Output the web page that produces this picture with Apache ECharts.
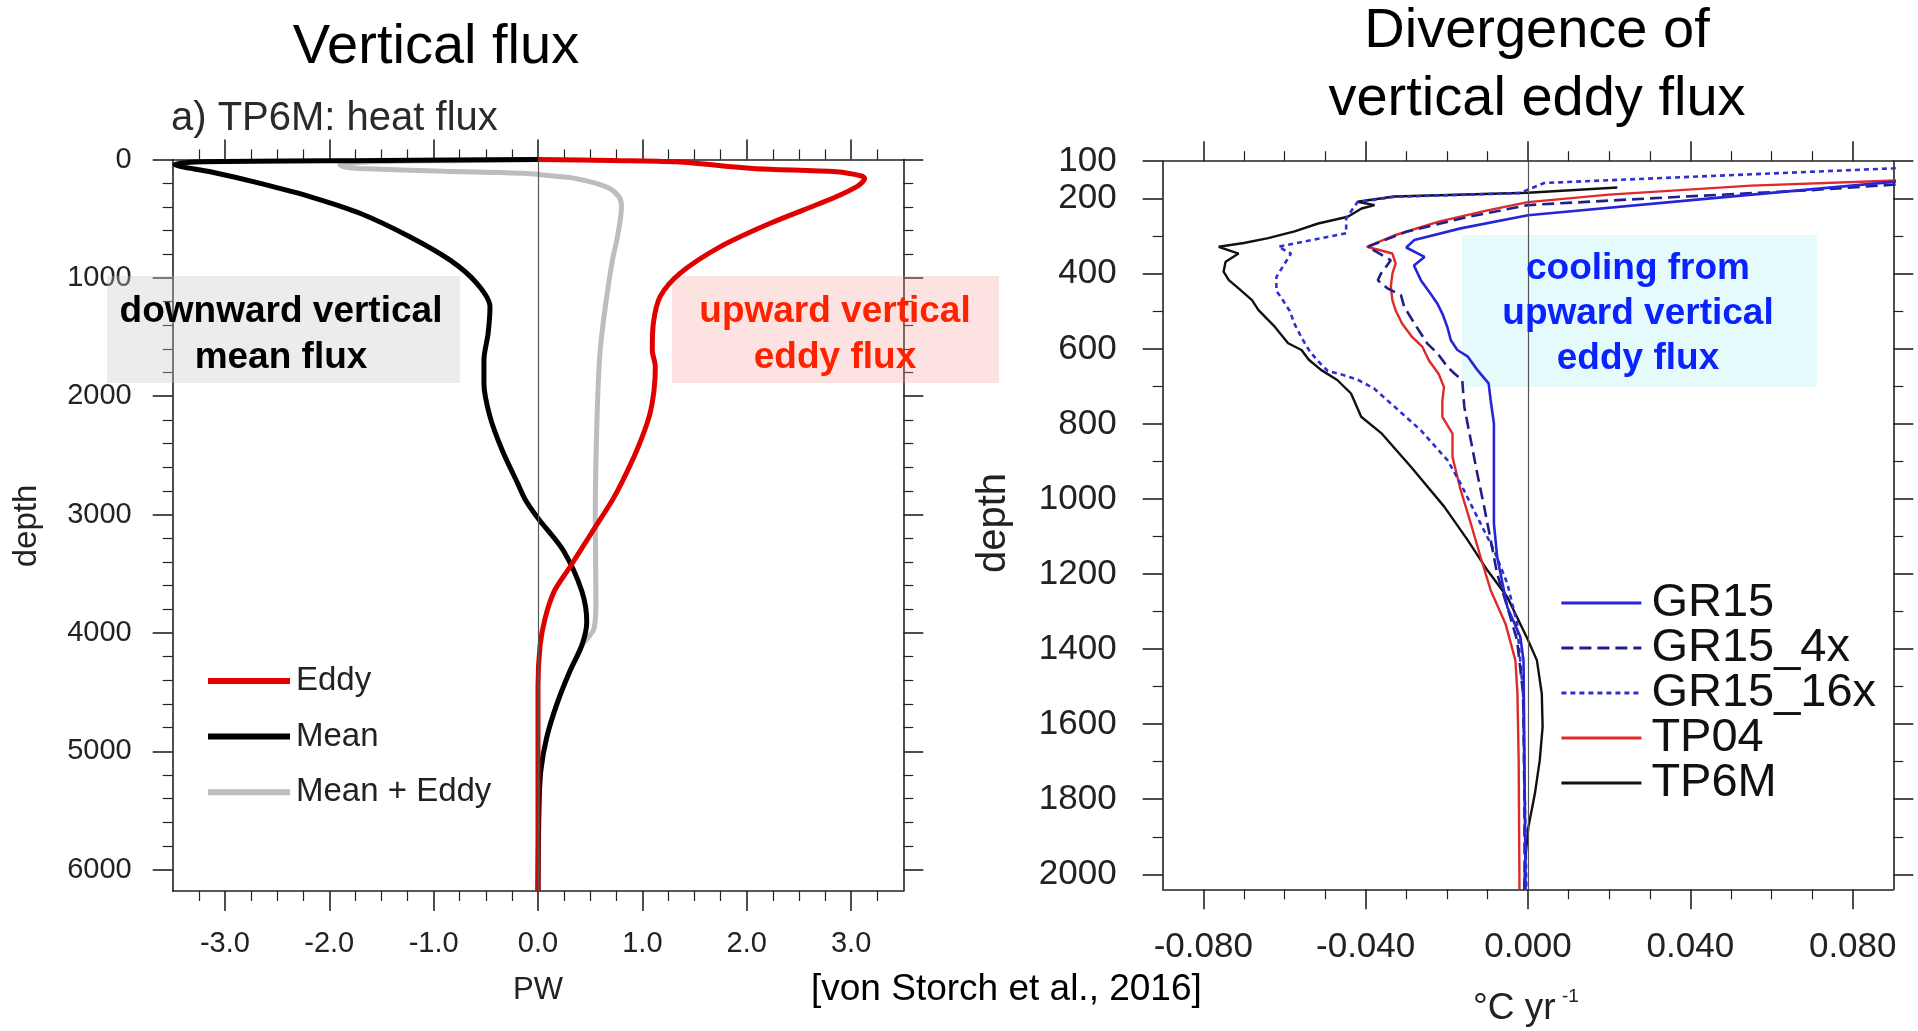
<!DOCTYPE html>
<html><head><meta charset="utf-8">
<script src="https://cdn.jsdelivr.net/npm/echarts@6/dist/echarts.min.js"></script>
<style>html,body{margin:0;padding:0;background:#fff}#c{width:1918px;height:1031px}</style>
</head><body><div id="c"></div>
<script>
const FONT = "'Liberation Sans', Arial, Helvetica, sans-serif";

// ---------- Left panel: a) TP6M heat flux (PW) vs depth ----------
const eddyDepth = [0,8,20,76,104,139,160,198,231,298,372,541,738,962,1159,1385,1610,1751,1947,2172,2454,2734,2876,3162,3447,3647,3876,4105,4448,6180];
const eddyFlux  = [0,0.7,1.33,2.06,2.86,3.10,3.13,3.10,3.05,2.90,2.70,2.22,1.744,1.36,1.17,1.105,1.095,1.124,1.112,1.065,0.948,0.80,0.713,0.508,0.303,0.156,0.068,0.02,0,0];
const meanDepth = [0,8,18,40,60,104,202,315,456,654,850,1046,1244,1469,1694,1890,2172,2454,2734,2876,3030,3305,3647,3905,4105,4334,4591,4877,5162,5449,6180];
const meanFlux  = [0,-1.5,-3.2,-3.48,-3.42,-3.14,-2.66,-2.18,-1.70,-1.225,-0.842,-0.586,-0.46,-0.478,-0.518,-0.518,-0.46,-0.344,-0.196,-0.12,0,0.244,0.42,0.467,0.42,0.30,0.185,0.085,0.027,0.01,0];
const sumDepth  = [0,8,20,45,63,76,100,118,140,162,200,246,320,400,500,681,850,1187,1610,2172,3015,3733,3962,4050,4105,4334,4591,4877,5162,5449,6180];
const sumFlux   = [0,-0.7,-1.6,-1.9,-1.85,-1.7,-0.9,-0.11,0.15,0.37,0.55,0.69,0.78,0.80,0.79,0.755,0.713,0.654,0.596,0.566,0.549,0.555,0.537,0.47,0.42,0.30,0.185,0.085,0.027,0.01,0];
const leftXTicks = [-3,-2,-1,0,1,2,3];
const leftXMinor = [-3.25,-2.75,-2.5,-2.25,-1.75,-1.5,-1.25,-0.75,-0.5,-0.25,0.25,0.5,0.75,1.25,1.5,1.75,2.25,2.5,2.75,3.25];
const leftYTicks = [0,1000,2000,3000,4000,5000,6000];
const leftYMinor = [200,400,600,800,1200,1400,1600,1800,2200,2400,2600,2800,3200,3400,3600,3800,4200,4400,4600,4800,5200,5400,5600,5800];

// ---------- Right panel: divergence of vertical eddy flux (°C/yr) vs depth ----------
const gr15Depth  = [148,155,199,244,279,310,330,355,378,417,453,480,506,541,577,603,620,656,692,737,799,932,1065,1154,1288,1367,1430,1785,2040];
const gr15Rate   = [0.095,0.09,0.045,0,-0.0166,-0.028,-0.030,-0.0255,-0.0281,-0.0264,-0.024,-0.0223,-0.0211,-0.0199,-0.019,-0.0174,-0.0149,-0.0125,-0.0097,-0.0092,-0.0084,-0.0084,-0.0084,-0.0076,-0.0051,-0.0019,-0.0011,-0.0008,-0.0006];
const gr4xDepth  = [159,177,199,217,249,288,328,364,399,417,439,457,488,532,559,586,612,647,665,683,754,843,932,1021,1109,1199,1288,1376,1519,1785,2040];
const gr4xRate   = [0.095,0.07,0.03,0.0,-0.015,-0.03,-0.0395,-0.0338,-0.0362,-0.037,-0.0346,-0.0313,-0.0305,-0.028,-0.0264,-0.0248,-0.0223,-0.0199,-0.0182,-0.0162,-0.0157,-0.0141,-0.0125,-0.0108,-0.0092,-0.0076,-0.0051,-0.0027,-0.0012,-0.0009,-0.0008];
const gr16xDepth = [110,119,158,185,195,209,252,292,328,346,374,409,445,472,499,534,570,606,632,659,668,682,705,754,817,897,959,1048,1136,1225,1331,1519,1785,2040];
const gr16xRate  = [0.095,0.09,0.004,-0.002,-0.033,-0.042,-0.0448,-0.0448,-0.0615,-0.0584,-0.060,-0.062,-0.062,-0.0603,-0.0587,-0.0575,-0.0558,-0.0538,-0.0518,-0.0493,-0.046,-0.042,-0.038,-0.0329,-0.0264,-0.0198,-0.0166,-0.0125,-0.0084,-0.0051,-0.0027,-0.0012,-0.0008,-0.0004];
const tp04Depth  = [150,165,189,209,231,261,298,328,346,373,399,435,471,498,533,569,595,631,667,702,738,781,826,888,976,1065,1154,1243,1334,1430,1519,1696,2040];
const tp04Rate   = [0.095,0.055,0.02,0.0,-0.01,-0.022,-0.033,-0.0397,-0.0334,-0.0326,-0.0334,-0.0338,-0.0334,-0.0326,-0.031,-0.0285,-0.026,-0.0244,-0.022,-0.0207,-0.0211,-0.0211,-0.0186,-0.0186,-0.0166,-0.0141,-0.0117,-0.0092,-0.0055,-0.0031,-0.0026,-0.0023,-0.0021];
const tp6mDepth  = [170,184,194,208,217,226,248,266,287,305,318,328,346,368,394,417,439,470,497,541,585,603,629,656,683,719,781,826,915,1021,1109,1190,1261,1376,1430,1519,1607,1696,1785,1874,1963,2040];
const tp6mRate   = [0.022,0.0,-0.033,-0.042,-0.0378,-0.041,-0.0444,-0.0517,-0.0575,-0.064,-0.070,-0.0762,-0.0713,-0.0745,-0.075,-0.0737,-0.0713,-0.068,-0.0664,-0.0624,-0.0591,-0.0558,-0.054,-0.051,-0.047,-0.0436,-0.0411,-0.036,-0.0288,-0.0206,-0.0149,-0.010,-0.0051,0,0.0022,0.0034,0.0036,0.0029,0.0017,0.0001,-0.0007,-0.0009];
const rightXTicks = [-0.08,-0.04,0,0.04,0.08];
const rightXMinor = [-0.07,-0.06,-0.05,-0.03,-0.02,-0.01,0.01,0.02,0.03,0.05,0.06,0.07];
const rightYLabels = [100,200,400,600,800,1000,1200,1400,1600,1800,2000];
const rightYMinor = [300,500,700,900,1100,1300,1500,1700,1900];

const pairs = (xs, ys) => xs.map((v, i) => [v, ys[i]]);

const TICKC = '#222';
function axis(o) {
  return {
    type: 'value', gridIndex: o.grid, position: o.pos, min: o.min, max: o.max,
    inverse: !!o.inverse, splitLine: { show: false },
    axisLine: { show: !!o.line, onZero: false, lineStyle: { color: TICKC, width: 1.6 } },
    axisTick: { show: true, inside: false, length: o.len, customValues: o.ticks,
                lineStyle: { color: TICKC, width: o.len > 15 ? 1.6 : 1.2 } },
    axisLabel: o.labels ? { show: true, customValues: o.labels, formatter: o.fmt,
                fontFamily: FONT, fontSize: o.fs, color: '#222', margin: o.margin } : { show: false }
  };
}
const LX = { min: -3.5, max: 3.5 }, LY = { min: 0, max: 6180 };
const RX = { min: -0.09, max: 0.09 }, RY = { min: 100, max: 2040 };
const xAxes = [
  axis({ grid: 0, pos: 'bottom', ...LX, line: true, ticks: leftXTicks, len: 20, labels: leftXTicks, fmt: v => Number(v).toFixed(1), fs: 29, margin: 38 }),
  axis({ grid: 0, pos: 'bottom', ...LX, ticks: leftXMinor, len: 10 }),
  axis({ grid: 0, pos: 'top', ...LX, line: true, ticks: leftXTicks, len: 20 }),
  axis({ grid: 0, pos: 'top', ...LX, ticks: leftXMinor, len: 10 }),
  axis({ grid: 1, pos: 'bottom', ...RX, line: true, ticks: rightXTicks, len: 20, labels: rightXTicks, fmt: v => Number(v).toFixed(3), fs: 35, margin: 41 }),
  axis({ grid: 1, pos: 'bottom', ...RX, ticks: rightXMinor, len: 10 }),
  axis({ grid: 1, pos: 'top', ...RX, line: true, ticks: rightXTicks, len: 20 }),
  axis({ grid: 1, pos: 'top', ...RX, ticks: rightXMinor, len: 10 })
];
const yAxes = [
  axis({ grid: 0, pos: 'left', ...LY, inverse: true, line: true, ticks: leftYTicks, len: 20, labels: leftYTicks, fmt: v => String(v), fs: 29, margin: 41 }),
  axis({ grid: 0, pos: 'left', ...LY, inverse: true, ticks: leftYMinor, len: 10 }),
  axis({ grid: 0, pos: 'right', ...LY, inverse: true, line: true, ticks: leftYTicks, len: 20 }),
  axis({ grid: 0, pos: 'right', ...LY, inverse: true, ticks: leftYMinor, len: 10 }),
  axis({ grid: 1, pos: 'left', ...RY, inverse: true, line: true, ticks: rightYLabels, len: 20, labels: rightYLabels, fmt: v => String(v), fs: 35, margin: 46 }),
  axis({ grid: 1, pos: 'left', ...RY, inverse: true, ticks: rightYMinor, len: 10 }),
  axis({ grid: 1, pos: 'right', ...RY, inverse: true, line: true, ticks: rightYLabels, len: 20 }),
  axis({ grid: 1, pos: 'right', ...RY, inverse: true, ticks: rightYMinor, len: 10 })
];

const zeroLine = { silent: true, symbol: ['none', 'none'], label: { show: false },
  lineStyle: { color: '#555', width: 1.2, type: 'solid' }, data: [{ xAxis: 0 }], animation: false };

function line(name, data, xi, color, width, type, smooth, extra) {
  return Object.assign({ name, type: 'line', data, xAxisIndex: xi, yAxisIndex: xi, showSymbol: false, symbol: 'none',
    smooth: smooth, clip: true, lineStyle: { color, width, type }, itemStyle: { color }, emphasis: { disabled: true } }, extra || {});
}

const series = [
  line('Mean + Eddy', pairs(sumFlux, sumDepth), 0, '#bdbdbd', 5, 'solid', 0.3, { markLine: zeroLine }),
  line('Mean', pairs(meanFlux, meanDepth), 0, '#000000', 5, 'solid', 0.3),
  line('Eddy', pairs(eddyFlux, eddyDepth), 0, '#e00000', 5, 'solid', 0.3),
  line('TP6M', pairs(tp6mRate, tp6mDepth), 4, '#111111', 2.4, 'solid', false, { markLine: zeroLine }),
  line('TP04', pairs(tp04Rate, tp04Depth), 4, '#e02a2a', 2.4, 'solid', false),
  line('GR15_16x', pairs(gr16xRate, gr16xDepth), 4, '#2f2fd2', 2.6, [5, 4], false),
  line('GR15_4x', pairs(gr4xRate, gr4xDepth), 4, '#20208c', 2.6, [12, 6], false),
  line('GR15', pairs(gr15Rate, gr15Depth), 4, '#2626d8', 2.6, 'solid', false)
];

const T = (text, x, y, size, opts) => Object.assign({ type: 'text', x, y, z: 100,
  style: { text, font: (opts && opts.weight ? opts.weight + ' ' : '') + size + 'px ' + FONT,
    fill: (opts && opts.fill) || '#000', textAlign: (opts && opts.align) || 'center', textVerticalAlign: 'middle' } },
  opts && opts.rotation ? { rotation: opts.rotation } : {});

const graphic = [
  { type: 'rect', z: 1, shape: { x: 107, y: 276, width: 353, height: 107 }, style: { fill: 'rgba(200,200,200,0.35)' } },
  { type: 'rect', z: 1, shape: { x: 672, y: 276, width: 327, height: 107 }, style: { fill: 'rgba(248,158,158,0.3)' } },
  { type: 'rect', z: 1, shape: { x: 1462, y: 235, width: 355, height: 152 }, style: { fill: 'rgba(150,240,240,0.25)' } },
  T('Vertical flux', 436, 48, 56),
  T('Divergence of', 1537, 32, 56),
  T('vertical eddy flux', 1537, 100, 56),
  T('a) TP6M: heat flux', 171, 119, 40, { align: 'left', fill: '#2a2a2a' }),
  T('downward vertical', 281, 312, 37, { weight: 'bold' }),
  T('mean flux', 281, 358, 37, { weight: 'bold' }),
  T('upward vertical', 835, 312, 37, { weight: 'bold', fill: '#ff2200' }),
  T('eddy flux', 835, 358, 37, { weight: 'bold', fill: '#ff2200' }),
  T('cooling from', 1638, 269, 37, { weight: 'bold', fill: '#0a22ff' }),
  T('upward vertical', 1638, 314, 37, { weight: 'bold', fill: '#0a22ff' }),
  T('eddy flux', 1638, 359, 37, { weight: 'bold', fill: '#0a22ff' }),
  T('PW', 538, 990, 31, { fill: '#222' }),
  T('depth', 27, 526, 33, { fill: '#222', rotation: Math.PI / 2 }),
  T('depth', 994, 523, 40, { fill: '#222', rotation: Math.PI / 2 }),
  T('°C yr', 1473, 1009, 37, { align: 'left', fill: '#222' }),
  T('-1', 1562, 997, 19, { align: 'left', fill: '#222' }),
  T('[von Storch et al., 2016]', 811, 990, 37, { align: 'left' })
];

const chart = echarts.init(document.getElementById('c'), null, { renderer: 'canvas' });
chart.setOption({
  animation: false,
  backgroundColor: '#fff',
  grid: [
    { left: 172.7, top: 159.5, width: 730.6, height: 731.5 },
    { left: 1162.7, top: 161.2, width: 730.6, height: 728.1 }
  ],
  xAxis: xAxes,
  yAxis: yAxes,
  legend: [
    { data: ['Eddy', 'Mean', 'Mean + Eddy'], orient: 'vertical', left: 205, top: 664.5, padding: 0,
      itemWidth: 82, itemHeight: 20, itemGap: 22.6, selectedMode: false,
      itemStyle: { opacity: 0 }, lineStyle: { width: 6 },
      textStyle: { fontFamily: FONT, fontSize: 33, lineHeight: 33, color: '#222', padding: [0, 0, 0, 1] } },
    { data: ['GR15', 'GR15_4x', 'GR15_16x', 'TP04', 'TP6M'], orient: 'vertical', left: 1560, top: 579.5, padding: 0,
      itemWidth: 80, itemHeight: 30, itemGap: -2, selectedMode: false,
      itemStyle: { opacity: 0 }, lineStyle: { width: 2.8 },
      textStyle: { fontFamily: FONT, fontSize: 47, lineHeight: 45, color: '#111', padding: [0, 0, 0, 5] } }
  ],
  series,
  graphic
});
</script></body></html>
